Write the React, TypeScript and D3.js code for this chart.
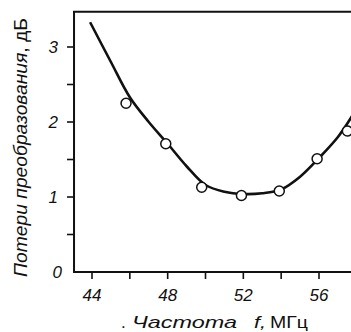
import React, { useEffect, useRef } from "react";
import * as d3 from "d3";

// measured points (circles)
const pointFreq = [45.8, 47.9, 49.8, 51.9, 53.9, 55.9, 57.5];
const pointLoss = [2.25, 1.71, 1.13, 1.02, 1.08, 1.51, 1.88];

// fitted curve
const curveFreq = [43.9, 45, 46, 47, 48, 49, 50, 51, 52, 53, 54, 55, 56, 57, 57.75];
const curveLoss = [3.33, 2.8, 2.33, 2.0, 1.71, 1.41, 1.16, 1.07, 1.04, 1.05, 1.1, 1.27, 1.52, 1.8, 2.08];

const xMajor = [44, 48, 52, 56];
const xMinor = [46, 50, 54];
const yMajor = [0, 1, 2, 3];
const yMinor = [0.5, 1.5, 2.5];

const W = 351;
const H = 332;

export default function App() {
  const ref = useRef<SVGSVGElement>(null);

  useEffect(() => {
    const svg = d3.select(ref.current);
    svg.selectAll("*").remove();

    const x = d3.scaleLinear().domain([44, 56]).range([92, 319]);
    const y = d3.scaleLinear().domain([0, 3]).range([272, 47]);
    const left = x(43.05);
    const right = W;
    const top = y(3.47);
    const bottom = y(0);

    const ink = "#111";
    const font = "'Liberation Sans', Arial, sans-serif";

    // frame
    svg.append("path")
      .attr("d", `M${right},${top} L${left},${top} L${left},${bottom} L${right},${bottom}`)
      .attr("fill", "none")
      .attr("stroke", ink)
      .attr("stroke-width", 2);

    // x ticks
    svg.selectAll(".xt")
      .data(xMajor.concat(xMinor))
      .join("line")
      .attr("x1", d => x(d)).attr("x2", d => x(d))
      .attr("y1", bottom).attr("y2", bottom + 7)
      .attr("stroke", ink).attr("stroke-width", 1.6);

    svg.selectAll(".xl")
      .data(xMajor)
      .join("text")
      .attr("x", d => x(d))
      .attr("y", bottom + 29)
      .attr("text-anchor", "middle")
      .attr("font-family", font)
      .attr("font-style", "italic")
      .attr("font-size", 17)
      .attr("fill", ink)
      .text(d => d);

    // y ticks
    svg.selectAll(".yt")
      .data(yMajor.slice(1).concat(yMinor))
      .join("line")
      .attr("x1", left - 7).attr("x2", left)
      .attr("y1", d => y(d)).attr("y2", d => y(d))
      .attr("stroke", ink).attr("stroke-width", 1.6);

    svg.selectAll(".yl")
      .data(yMajor)
      .join("text")
      .attr("x", d => (d === 0 ? left - 12 : left - 16))
      .attr("y", d => y(d) + 6)
      .attr("text-anchor", "end")
      .attr("font-family", font)
      .attr("font-style", "italic")
      .attr("font-size", 17)
      .attr("fill", ink)
      .text(d => d);

    // curve
    const line = d3.line<number>()
      .x((d, i) => x(curveFreq[i]))
      .y(d => y(d))
      .curve(d3.curveCatmullRom);
    svg.append("path")
      .attr("d", line(curveLoss))
      .attr("fill", "none")
      .attr("stroke", ink)
      .attr("stroke-width", 2.6);

    // points
    svg.selectAll(".pt")
      .data(pointLoss)
      .join("circle")
      .attr("cx", (d, i) => x(pointFreq[i]))
      .attr("cy", d => y(d))
      .attr("r", 5)
      .attr("fill", "#fff")
      .attr("stroke", ink)
      .attr("stroke-width", 1.5);

    // x title
    const xTitle = [
      { t: ".", x: 121, len: 0, italic: false },
      { t: "Частота", x: 132, len: 105, italic: true },
      { t: "f,", x: 254, len: 12, italic: true },
      { t: "МГц", x: 270, len: 38, italic: false },
    ];
    xTitle.forEach(p => {
      const el = svg.append("text")
        .attr("x", p.x)
        .attr("y", 328)
        .attr("font-family", font)
        .attr("font-size", 17)
        .attr("font-style", p.italic ? "italic" : "normal")
        .attr("fill", ink)
        .text(p.t);
      if (p.len) el.attr("textLength", p.len).attr("lengthAdjust", "spacingAndGlyphs");
    });

    // y title
    const yt = svg.append("text")
      .attr("transform", `translate(27,277) rotate(-90)`)
      .attr("font-family", font)
      .attr("font-size", 18)
      .attr("fill", ink)
      .attr("textLength", 259)
      .attr("lengthAdjust", "spacingAndGlyphs");
    yt.append("tspan").attr("font-style", "italic").text("Потери преобразования");
    yt.append("tspan").text(", дБ");
  }, []);

  return (
    <svg
      ref={ref}
      width={W}
      height={H}
      style={{ position: "absolute", left: 0, top: 0, background: "#fff" }}
    />
  );
}
